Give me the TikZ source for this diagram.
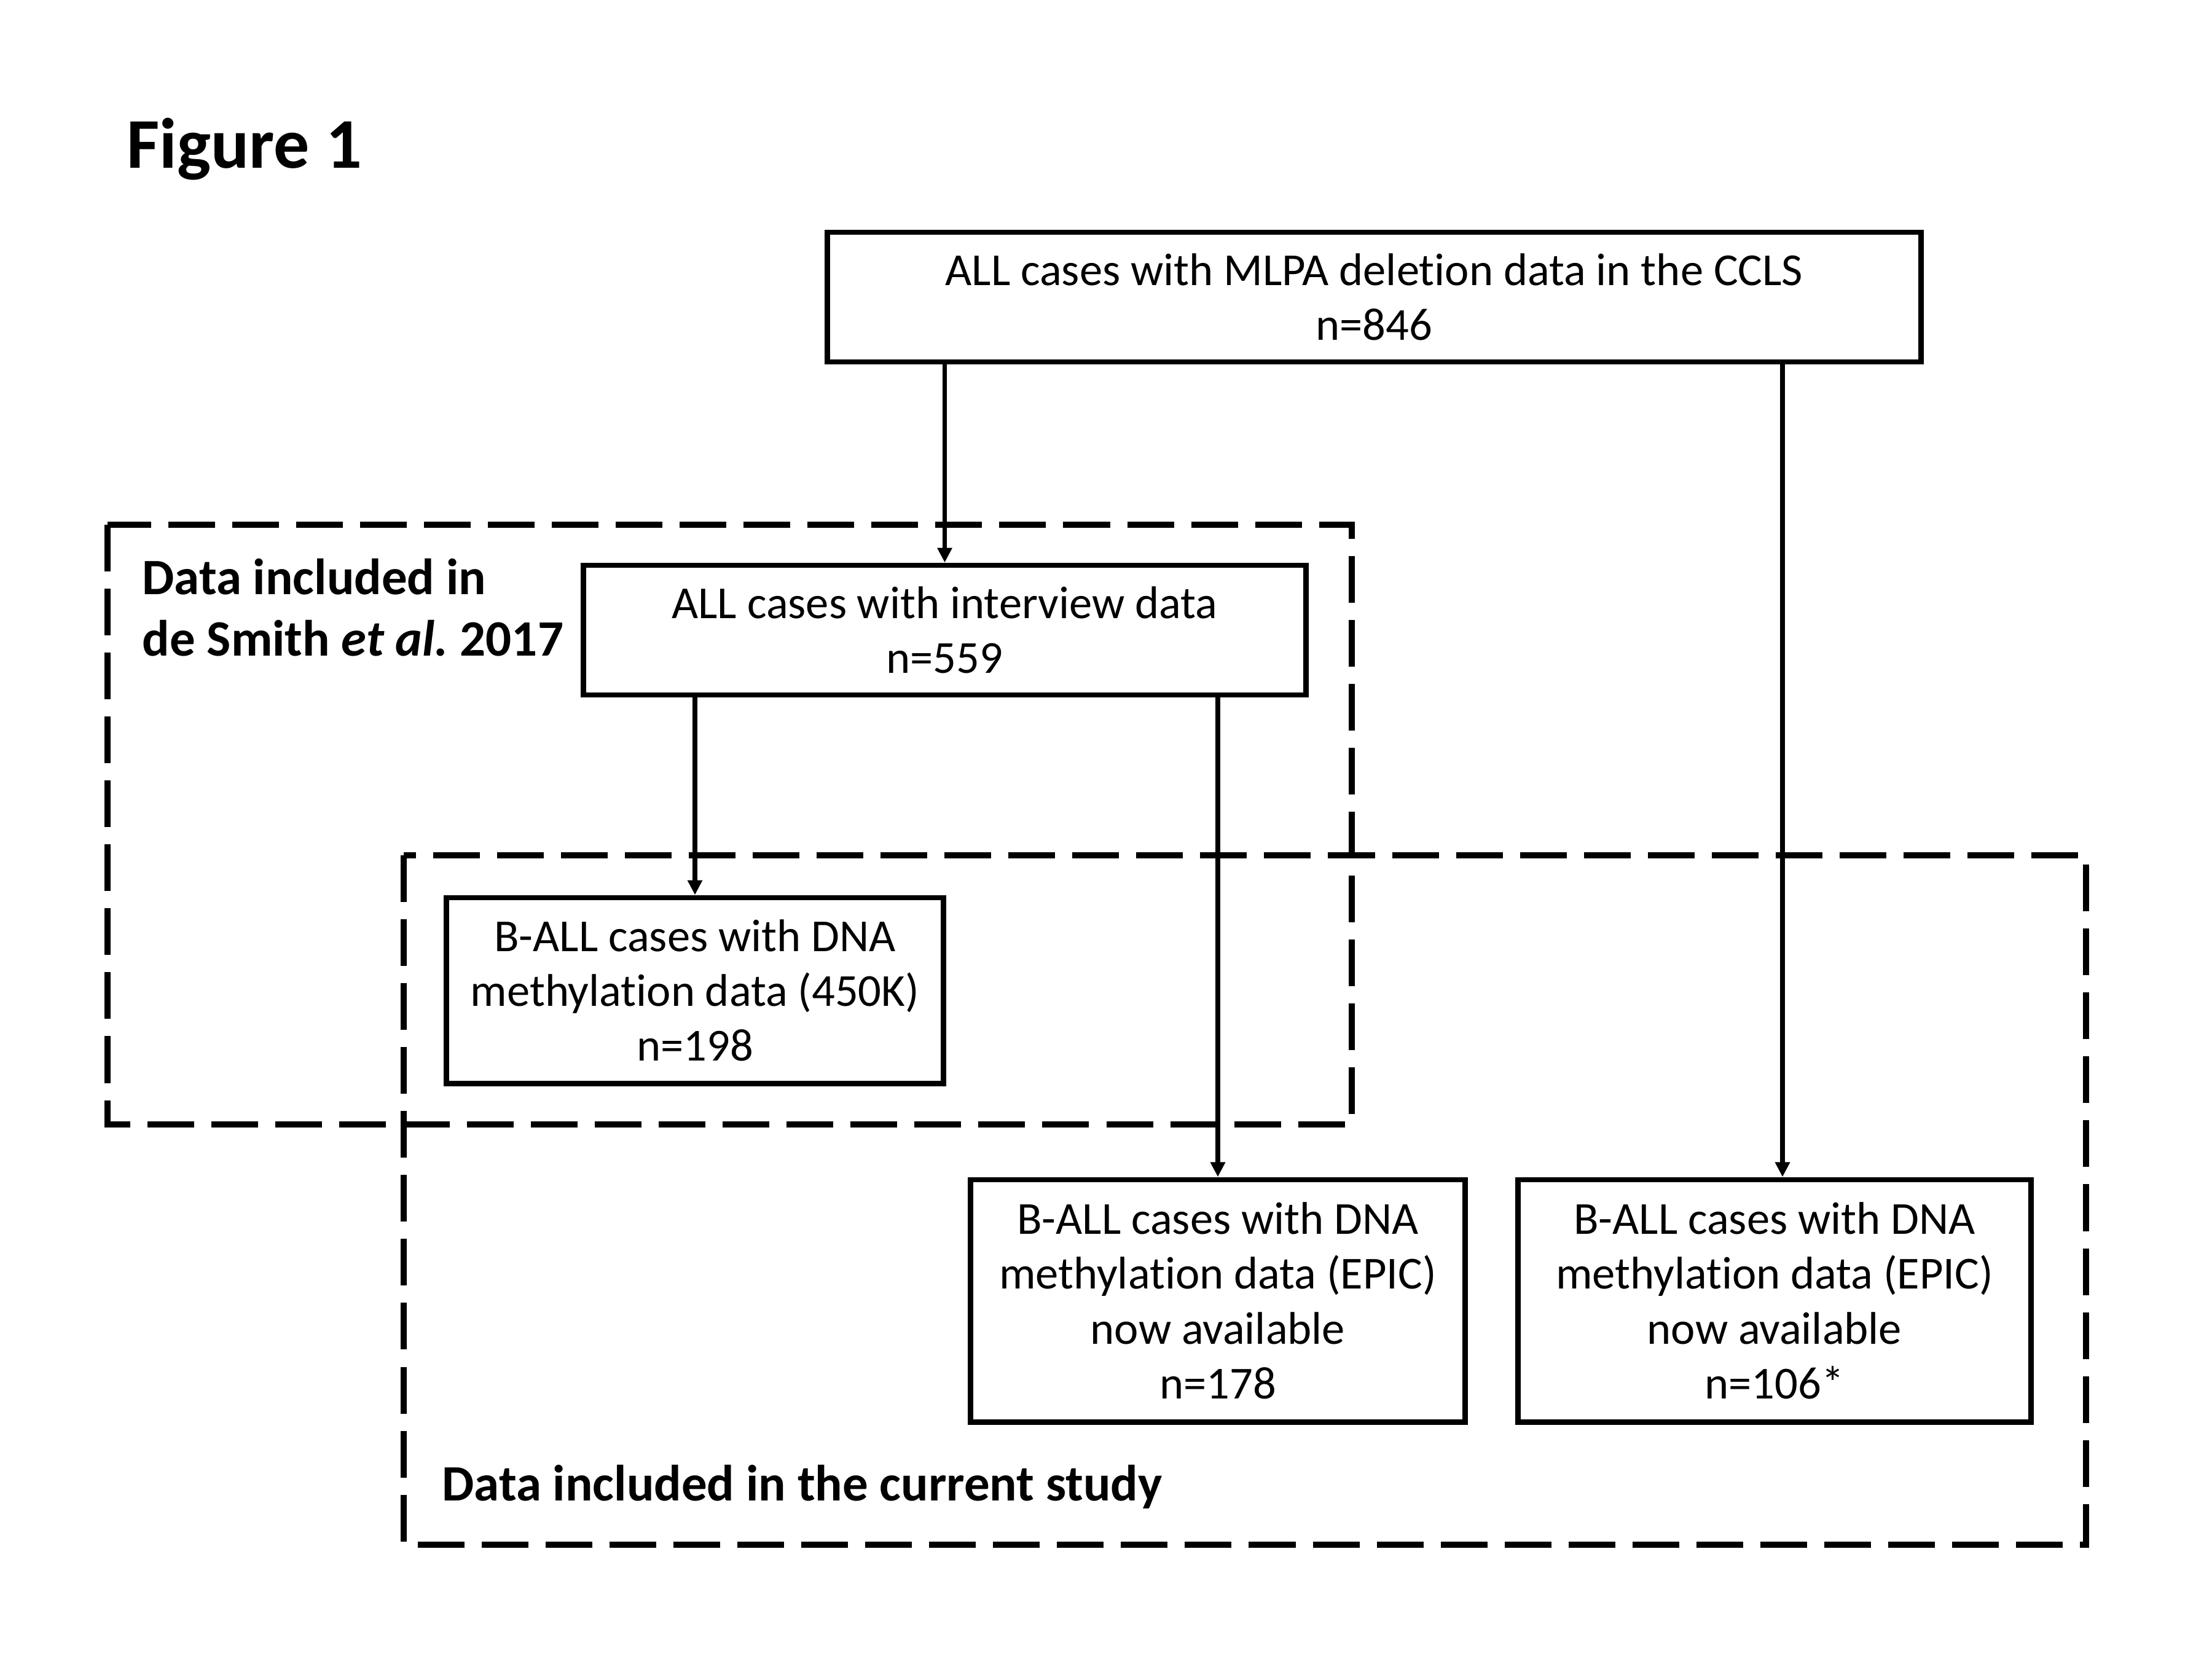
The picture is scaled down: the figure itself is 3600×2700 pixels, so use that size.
\documentclass[tikz,border=0pt]{standalone}
\usepackage{fontspec}
\setmainfont{Carlito}[Ligatures=NoCommon]
\frenchspacing
\usetikzlibrary{arrows.meta}
\begin{document}
\begin{tikzpicture}[x=0.01cm,y=-0.01cm,
  box/.style={draw=black, line width=0.088cm, fill=white, align=center, inner sep=0pt,
    font=\fontsize{21.2}{25.4}\selectfont},
  arr/.style={draw=black, line width=0.078cm, -{Triangle[length=0.24cm,width=0.23cm]}},
  group/.style={draw=black, line width=0.095cm, dash pattern=on 0.76cm off 0.28cm},
  grouplabel/.style={font=\fontsize{23.6}{28.3}\selectfont\bfseries, anchor=base west, inner sep=0pt},
  figlabel/.style={font=\fontsize{33}{39}\selectfont\bfseries, anchor=base west, inner sep=0pt}
]
\fill[white] (0,0) rectangle (3600,2700);
\path[use as bounding box] (0,0) rectangle (3600,2700);

% title
\node[figlabel] (fig) at (206,273) {Figure 1};

% dashed groups
\draw[group] (175,854) rectangle (2200,1830);
\draw[group] (657,1392) rectangle (3395,2514);

% boxes
\node[box, minimum width=17.79cm, minimum height=2.11cm] (top) at (2236.5,483.5)
  {ALL cases with MLPA deletion data in the CCLS\\n=846};
\node[box, minimum width=11.75cm, minimum height=2.11cm] (b2) at (1537.5,1025.5)
  {ALL cases with interview data\\n=559};
\node[box, minimum width=8.08cm, minimum height=3.02cm] (b3) at (1131,1612)
  {B-ALL cases with DNA\\methylation data (450K)\\n=198};
\node[box, minimum width=8.05cm, minimum height=3.94cm] (b4) at (1982,2117)
  {B-ALL cases with DNA\\methylation data (EPIC)\\now available\\n=178};
\node[box, minimum width=8.35cm, minimum height=3.94cm] (b5) at (2888,2117)
  {B-ALL cases with DNA\\methylation data (EPIC)\\now available\\n=106*};

% connectors
\coordinate (c5) at (2901,0);
\draw[arr] (top.south -| b2.north) -- (b2.north);
\draw[arr] (top.south -| c5) -- (b5.north -| c5);
\draw[arr] (b2.south -| b3.north) -- (b3.north);
\draw[arr] (b2.south -| b4.north) -- (b4.north);

% group labels
\node[grouplabel] (g1a) at (231,967) {Data included in};
\node[grouplabel] (g1b) at (231,1067) {de Smith {\itshape et al.} 2017};
\node[grouplabel] (g2) at (719,2442) {Data included in the current study};
\end{tikzpicture}
\end{document}
